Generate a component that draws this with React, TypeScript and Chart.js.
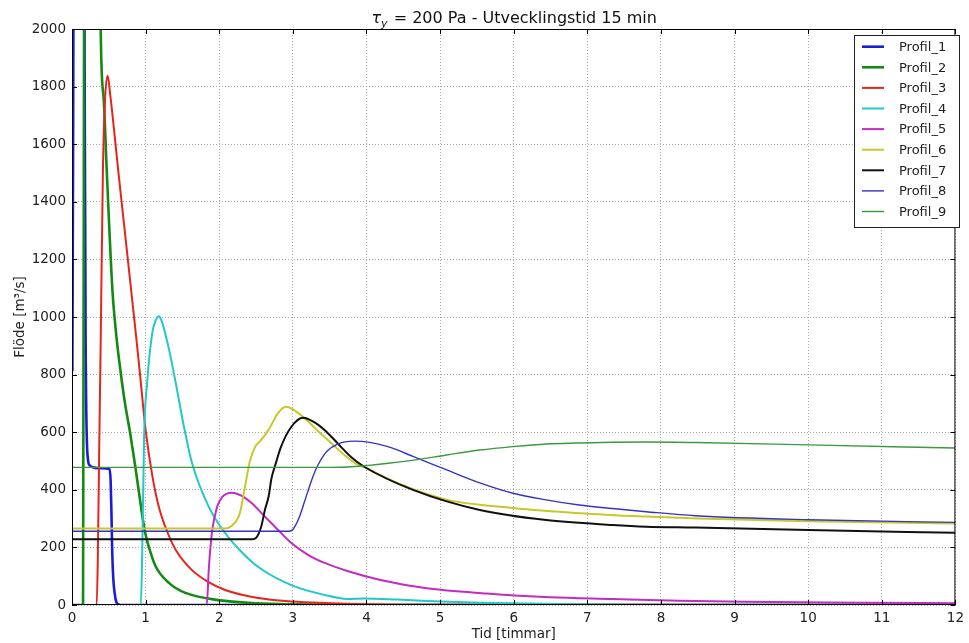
import React, { useEffect, useRef } from "react";
import { Chart, registerables } from "chart.js";

Chart.register(...registerables);

// ---- Data (time in hours, flow in m3/s) ----
const seriesNames = ["Profil_1", "Profil_2", "Profil_3", "Profil_4", "Profil_5", "Profil_6", "Profil_7", "Profil_8", "Profil_9"];

const p1Time = [0, 0.005, 0.02, 0.05, 0.15, 0.17, 0.185, 0.215, 0.24, 0.3, 0.4, 0.51, 0.525, 0.535, 0.545, 0.56, 0.58, 0.6, 0.63, 0.7, 12];
const p1Flow = [816, 816, 2100, 3500, 3500, 2000, 920, 510, 485, 477, 475, 472, 430, 330, 200, 95, 40, 12, 2, 0, 0];

const p2Time = [0, 0.15, 0.165, 0.2, 0.36, 0.39, 0.43, 0.47, 0.51, 0.55, 0.6, 0.66, 0.72, 0.79, 0.86, 0.91, 0.99, 1.07, 1.14, 1.32, 1.54, 1.99, 2.5, 3.0, 4, 12];
const p2Flow = [0, 0, 2200, 3500, 3500, 2000, 1760, 1520, 1290, 1090, 940, 810, 700, 597, 480, 390, 255, 180, 132, 76, 42, 17, 6, 2, 0, 0];

const p3Time = [0, 0.335, 0.35, 0.37, 0.39, 0.42, 0.45, 0.485, 0.52, 0.64, 0.75, 0.87, 0.93, 1.0, 1.09, 1.18, 1.3, 1.41, 1.63, 1.85, 2.08, 2.53, 3.0, 3.43, 4.0, 5, 12];
const p3Flow = [0, 0, 150, 550, 920, 1510, 1760, 1838, 1770, 1480, 1220, 935, 785, 608, 450, 340, 250, 191, 121, 80, 52, 24, 12, 7, 3, 1, 0];

const p4Time = [0, 0.935, 0.955, 0.98, 1.02, 1.09, 1.14, 1.18, 1.22, 1.32, 1.41, 1.52, 1.63, 1.86, 2.08, 2.3, 2.53, 2.98, 3.43, 3.74, 3.97, 4.42, 4.82, 5.54, 6.4, 8, 12];
const p4Flow = [0, 0, 200, 590, 770, 944, 990, 1003, 985, 885, 770, 620, 493, 340, 250, 185, 132, 69, 35, 21, 23, 19, 14, 8, 4, 0, 0];

const p5Time = [0, 1.83, 1.86, 1.9, 1.97, 2.04, 2.17, 2.3, 2.44, 2.6, 2.76, 2.98, 3.2, 3.43, 3.74, 4.19, 4.82, 5.63, 6.49, 7.34, 8.24, 9.14, 10.72, 12];
const p5Flow = [0, 0, 132, 250, 340, 375, 390, 380, 354, 312, 271, 215, 175, 146, 118, 87, 58, 40, 27, 21, 15, 11, 8, 6];

const p6Time = [0, 2.08, 2.17, 2.28, 2.35, 2.42, 2.49, 2.57, 2.67, 2.8, 2.91, 3.07, 3.43, 3.84, 3.97, 4.5, 5.1, 5.99, 6.89, 7.8, 8.5, 10, 12];
const p6Flow = [266, 266, 275, 319, 411, 503, 550, 573, 608, 667, 688, 667, 583, 493, 478, 415, 365, 337, 319, 307, 300, 291, 283];

const p7Time = [0, 2.45, 2.5, 2.57, 2.62, 2.67, 2.71, 2.76, 2.84, 2.98, 3.14, 3.3, 3.43, 3.61, 3.79, 3.97, 4.64, 5.54, 6.44, 7.34, 7.8, 8.47, 10, 12];
const p7Flow = [228, 228, 233, 272, 330, 376, 440, 485, 550, 619, 650, 633, 608, 561, 514, 480, 399, 330, 295, 278, 272, 269, 260, 251];

const p8Time = [0, 2.95, 3.0, 3.08, 3.16, 3.25, 3.32, 3.45, 3.6, 3.84, 4.29, 4.64, 5.09, 5.54, 5.99, 6.44, 6.89, 7.34, 7.8, 8.47, 10, 12];
const p8Flow = [256, 256, 262, 300, 360, 430, 475, 530, 558, 569, 550, 515, 469, 424, 388, 365, 347, 335, 324, 310, 296, 287];

const p9Time = [0, 3.5, 3.75, 4.0, 4.3, 4.64, 5.09, 5.54, 5.99, 6.44, 7.34, 7.8, 8.47, 10, 12];
const p9Flow = [478, 478, 479, 484, 492, 503, 521, 538, 550, 559, 565, 566, 564, 556, 545];

const xTicks = [0, 1, 2, 3, 4, 5, 6, 7, 8, 9, 10, 11, 12];
const yTicks = [0, 200, 400, 600, 800, 1000, 1200, 1400, 1600, 1800, 2000];

const seriesTimes = [p1Time, p2Time, p3Time, p4Time, p5Time, p6Time, p7Time, p8Time, p9Time];
const seriesFlows = [p1Flow, p2Flow, p3Flow, p4Flow, p5Flow, p6Flow, p7Flow, p8Flow, p9Flow];
const seriesColors = ["#1c1cd8", "#138a13", "#e8221c", "#22c8c8", "#c22cc2", "#c8c828", "#111111", "#3434c4", "#3c9a3c"];
const seriesWidths = [2.6, 2.6, 2, 2, 2, 2, 2, 1.4, 1.4];

const FONT = '"DejaVu Sans", sans-serif';

const decorPlugin = {
  id: "decor",
  afterDatasetsDraw(chart: any) {
    const { ctx, chartArea: a, scales } = chart;
    ctx.save();
    ctx.strokeStyle = "#000";
    ctx.lineWidth = 1;
    ctx.strokeRect(a.left + 0.5, a.top + 0.5, a.right - a.left - 1, a.bottom - a.top - 1);
    ctx.beginPath();
    for (const v of xTicks) {
      const px = Math.round(scales.x.getPixelForValue(v)) + 0.5;
      ctx.moveTo(px, a.bottom);
      ctx.lineTo(px, a.bottom - 5);
      ctx.moveTo(px, a.top);
      ctx.lineTo(px, a.top + 5);
    }
    for (const v of yTicks) {
      const py = Math.round(scales.y.getPixelForValue(v)) + 0.5;
      ctx.moveTo(a.left, py);
      ctx.lineTo(a.left + 5, py);
      ctx.moveTo(a.right, py);
      ctx.lineTo(a.right - 5, py);
    }
    ctx.stroke();
    ctx.restore();
  },
  afterDraw(chart: any) {
    const { ctx, chartArea: a } = chart;
    ctx.save();
    // Title with math tau_y
    const main = " = 200 Pa - Utvecklingstid 15 min";
    ctx.font = `italic 16px ${FONT}`;
    const wTau = ctx.measureText("τ").width;
    ctx.font = `italic 11px ${FONT}`;
    const wY = ctx.measureText("y").width;
    ctx.font = `16px ${FONT}`;
    const wMain = ctx.measureText(main).width;
    const cx = (a.left + a.right) / 2;
    const x0 = cx - (wTau + wY + wMain) / 2;
    const base = 23;
    ctx.fillStyle = "#111";
    ctx.textBaseline = "alphabetic";
    ctx.textAlign = "left";
    ctx.font = `italic 16px ${FONT}`;
    ctx.fillText("τ", x0, base);
    ctx.font = `italic 11px ${FONT}`;
    ctx.fillText("y", x0 + wTau, base + 4);
    ctx.font = `16px ${FONT}`;
    ctx.fillText(main, x0 + wTau + wY + 1, base);

    // Legend
    const lx = 854, ly = 35, lw = 105, lh = 192;
    ctx.fillStyle = "#fff";
    ctx.fillRect(lx, ly, lw, lh);
    ctx.strokeStyle = "#222";
    ctx.lineWidth = 1;
    ctx.strokeRect(lx + 0.5, ly + 0.5, lw, lh);
    ctx.font = `13px ${FONT}`;
    ctx.textBaseline = "middle";
    for (let i = 0; i < seriesNames.length; i++) {
      const ry = 46.7 + i * 20.6;
      ctx.strokeStyle = seriesColors[i];
      ctx.lineWidth = seriesWidths[i];
      ctx.beginPath();
      ctx.moveTo(862, ry);
      ctx.lineTo(884, ry);
      ctx.stroke();
      ctx.fillStyle = "#222";
      ctx.fillText(seriesNames[i], 899, ry + 1);
    }
    ctx.restore();
  },
};

export default function App() {
  const canvasRef = useRef<HTMLCanvasElement | null>(null);

  useEffect(() => {
    if (!canvasRef.current) return;
    const datasets = seriesNames.map((name, i) => ({
      label: name,
      data: seriesTimes[i].map((t, j) => ({ x: t, y: seriesFlows[i][j] })),
      borderColor: seriesColors[i],
      backgroundColor: seriesColors[i],
      borderWidth: seriesWidths[i],
      pointRadius: 0,
      fill: false,
      cubicInterpolationMode: "monotone" as const,
      order: seriesNames.length - i,
    }));

    const chart = new Chart(canvasRef.current, {
      type: "line",
      data: { datasets },
      options: {
        animation: false,
        responsive: false,
        devicePixelRatio: 1,
        layout: { padding: { top: 29, right: 8, left: 0, bottom: 0 } },
        plugins: {
          legend: { display: false },
          title: { display: false },
          tooltip: { enabled: false },
        },
        scales: {
          x: {
            type: "linear",
            min: 0,
            max: 12,
            afterFit: (s: any) => { s.height = 38; },
            afterBuildTicks: (s: any) => { s.ticks = xTicks.map((v) => ({ value: v })); },
            ticks: {
              autoSkip: false,
              maxRotation: 0,
              padding: 5,
              color: "#222",
              font: { family: FONT, size: 13.5 },
              callback: (v: any) => String(v),
            },
            grid: { color: "#a8a8a8", lineWidth: 1, drawTicks: false },
            border: { display: false, dash: [1, 2] },
            title: {
              display: true,
              text: "Tid [timmar]",
              color: "#222",
              font: { family: FONT, size: 13.5 },
              padding: { top: 0, bottom: 0 },
            },
          },
          y: {
            type: "linear",
            min: 0,
            max: 2000,
            afterFit: (s: any) => { s.width = 72; },
            afterBuildTicks: (s: any) => { s.ticks = yTicks.map((v) => ({ value: v })); },
            ticks: {
              autoSkip: false,
              padding: 6,
              color: "#222",
              font: { family: FONT, size: 13.5 },
              callback: (v: any) => String(v),
            },
            grid: { color: "#a8a8a8", lineWidth: 1, drawTicks: false },
            border: { display: false, dash: [1, 2] },
            title: {
              display: true,
              text: "Flöde [m³/s]",
              color: "#222",
              font: { family: FONT, size: 13.5 },
              padding: { top: 12, bottom: 0 },
            },
          },
        },
      },
      plugins: [decorPlugin],
    });
    return () => chart.destroy();
  }, []);

  return (
    <div style={{ position: "fixed", left: 0, top: 0, width: 969, height: 643, background: "#fff" }}>
      <canvas ref={canvasRef} width={969} height={643} style={{ display: "block" }} />
    </div>
  );
}
